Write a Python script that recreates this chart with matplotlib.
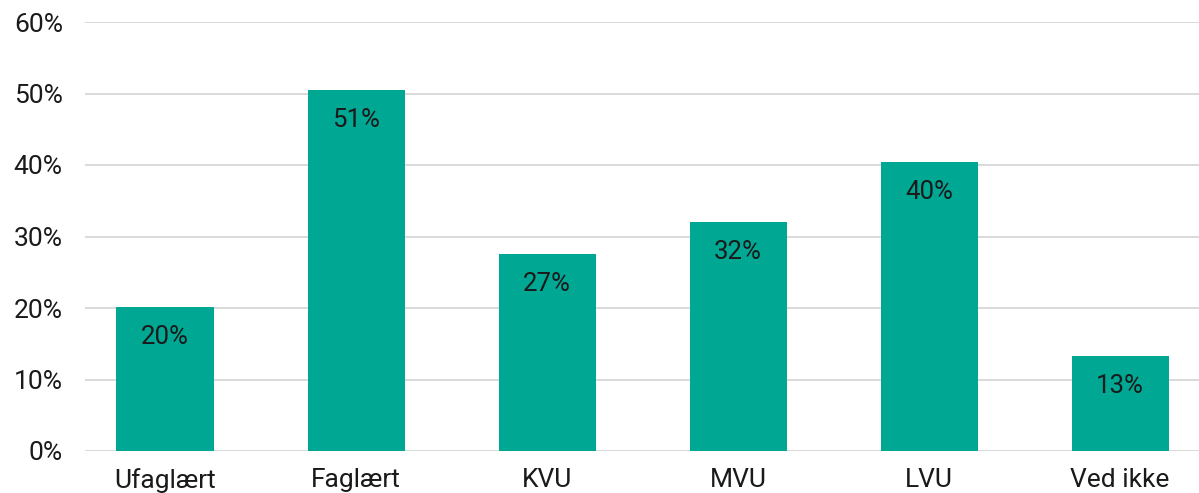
import matplotlib
matplotlib.use("Agg")
import matplotlib.pyplot as plt
from matplotlib.ticker import PercentFormatter

categories = ["Ufaglært", "Faglært", "KVU", "MVU", "LVU", "Ved ikke"]
values = [20.1, 50.5, 27.6, 32.0, 40.4, 13.3]
labels = ["20%", "51%", "27%", "32%", "40%", "13%"]
yticks = [0, 10, 20, 30, 40, 50, 60]

plt.rcParams['font.family'] = ['Roboto', 'DejaVu Sans']

W, H = 1199, 493
fig = plt.figure(figsize=(W / 100, H / 100), dpi=100)
ax = fig.add_axes([85 / W, 1 - 451 / H, 1 - 85 / W, (451 - 22) / H])

color = "#00A894"
x = list(range(len(categories)))
ax.bar(x, values, width=97 / 191, color=color, zorder=2)

for xi, v, lab in zip(x, values, labels):
    ax.annotate(lab, (xi, v), xytext=(0, -30), textcoords="offset pixels",
                ha="center", va="center", fontsize=18.5, color="#1a1a1a", zorder=3)

ax.set_xlim(-80 / 191, 5 + 79 / 191)
ax.set_ylim(0, 60)
ax.set_yticks(yticks)
ax.yaxis.set_major_formatter(PercentFormatter(decimals=0))
ax.set_xticks(x)
ax.set_xticklabels(categories)
ax.grid(axis="y", color="#D9D9D9", linewidth=1.4, zorder=0)
for s in ax.spines.values():
    s.set_visible(False)
ax.tick_params(axis="both", length=0, labelsize=19, colors="#1a1a1a")
ax.tick_params(axis="y", pad=16)
ax.tick_params(axis="x", pad=12)

fig.savefig("out.png", dpi=100)
